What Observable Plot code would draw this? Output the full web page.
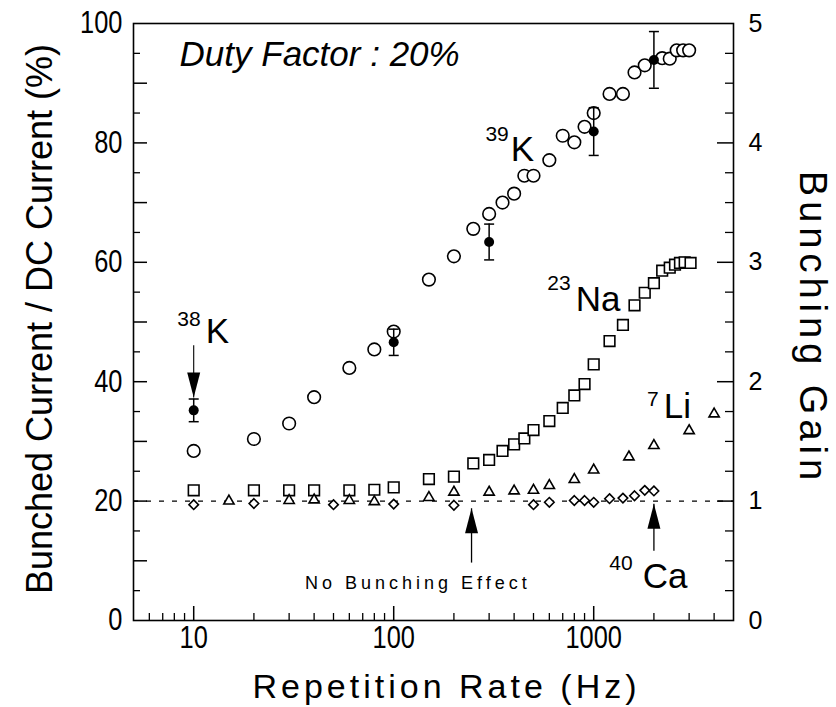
<!DOCTYPE html>
<html><head><meta charset="utf-8">
<script src="https://cdn.jsdelivr.net/npm/d3@7"></script>
<script src="https://cdn.jsdelivr.net/npm/@observablehq/plot@0.6"></script>
<style>body{margin:0;background:#fff}</style>
</head><body><div id="chart"></div>
<script>
// ---- data ----
const kRate = [10,20,30,40,60,80,100,150,200,250,300,350,400,450,500,600,700,800,900,1000,1200,1400,1600,1800,2200,2400,2600,2800,3000];
const kPct  = [28.4,30.4,33.0,37.4,42.3,45.4,48.4,57.1,61.0,65.6,68.1,70.0,71.5,74.5,74.5,77.1,81.2,80.1,82.7,85.0,88.2,88.2,91.8,93.0,94.2,94.1,95.5,95.5,95.5];
const kErrRate = [10,100,300,1000,2000];
const kErrPct  = [35.2,46.6,63.4,81.9,93.9];
const kErrBar  = [1.9,2.2,3.0,4.0,4.75];
const naRate = [10,20,30,40,60,80,100,150,200,250,300,350,400,450,500,600,700,800,900,1000,1200,1400,1600,1800,2000,2200,2400,2550,2700,2850,3050];
const naPct  = [21.8,21.8,21.8,21.8,21.8,21.9,22.3,23.7,24.1,26.3,26.9,28.4,29.5,30.5,31.9,33.4,35.6,37.7,39.6,42.9,46.8,49.5,52.8,54.9,56.5,58.6,59.1,59.6,59.9,60.0,59.9];
const liRate = [15,30,40,60,80,150,200,300,400,500,600,800,1000,1500,2000,3000,4000];
const liPct  = [20.0,20.1,20.2,20.1,19.9,20.6,21.5,21.5,21.7,21.8,22.6,23.6,25.2,27.4,29.3,31.8,34.6];
const caRate = [10,20,50,100,200,500,600,800,900,1000,1200,1400,1600,1800,2000];
const caPct  = [19.4,19.6,19.4,19.5,19.3,19.4,19.8,20.1,20.1,19.8,20.4,20.5,20.9,21.8,21.7];
const baseline = [20];
const xMajorTicks = [10,100,1000];
const xMinorTicks = [6,7,8,9,20,30,40,50,60,70,80,90,200,300,400,500,600,700,800,900,2000,3000,4000];
const yTickLabels = [0,20,40,60,80,100];
const yMajorTicks = [10,20,30,40,50,60,70,80,90];
const yMinorTicks = [5,15,25,35,45,55,65,75,85,95];
const gainTickLabels = [0,1,2,3,4,5];
const gainMajorTicks = [1,2,3,4];
const gainMinorTicks = [0.25,0.5,0.75,1.25,1.5,1.75,2.25,2.5,2.75,3.25,3.5,3.75,4.25,4.5,4.75];
// annotations (data coordinates)
const isoMain = ["K","K","Na","Li","Ca"];
const isoMainRate = [11.5,385,813,2239,1758];
const isoMainPct  = [46.4,77.05,51.9,34.0,5.5];
const isoSup = ["38","39","23","7","40"];
const isoSupRate = [10.83,376,767,2113,1567];
const isoSupPct  = [49.4,80.4,55.3,36.0,8.4];
const arrowUpRate = [245,2000];
const arrowUpTip  = [18.8,19.55];
const arrowUpTail = [9.7,11.7];
const arrowDownRate = [10];
const arrowDownTip  = [37.35];
const arrowDownTail = [46.1];

// ---- tables ----
const zip = (xs, ys) => xs.map((x, i) => ({x, y: ys[i]}));
const k39 = zip(kRate, kPct);
const kErr = kErrRate.map((x, i) => ({x, y: kErrPct[i], e: kErrBar[i]}));
const na = zip(naRate, naPct);
const li = zip(liRate, liPct);
const ca = zip(caRate, caPct);
const mains = isoMain.map((t, i) => ({t, x: isoMainRate[i], y: isoMainPct[i]}));
const sups = isoSup.map((t, i) => ({t, x: isoSupRate[i], y: isoSupPct[i]}));
const upArrows = arrowUpRate.map((x, i) => ({x, tip: arrowUpTip[i], tail: arrowUpTail[i]}));
const downArrows = arrowDownRate.map((x, i) => ({x, tip: arrowDownTip[i], tail: arrowDownTail[i]}));

const head = {draw(ctx) { ctx.moveTo(0, 0); ctx.lineTo(6.5, 25); ctx.lineTo(-6.5, 25); ctx.closePath(); }};
const cap = {draw(ctx) { ctx.moveTo(-5, 0); ctx.lineTo(5, 0); }};
const SANS = "Liberation Sans, Arial, Helvetica, sans-serif";
const FH = 597, FW = 600;

const chart = Plot.plot({
  width: 836, height: 707,
  marginLeft: 133, marginRight: 103, marginTop: 23, marginBottom: 87,
  x: {type: "log", domain: [5, 5000], axis: null},
  y: {domain: [0, 100], axis: null},
  style: {fontFamily: SANS, background: "#fff", color: "#000"},
  marks: [
    Plot.ruleY(baseline, {y: d => d, stroke: "#000", strokeWidth: 1.3, strokeDasharray: "5,8"}),
    // ticks
    Plot.ruleX(xMajorTicks, {x: d => d, insetTop: FH - 14, strokeWidth: 1.5}),
    Plot.ruleX(xMinorTicks, {x: d => d, insetTop: FH - 7, strokeWidth: 1.3}),
    Plot.ruleY(yMajorTicks, {y: d => d, insetRight: FW - 14, strokeWidth: 1.5}),
    Plot.ruleY(yMinorTicks, {y: d => d, insetRight: FW - 7, strokeWidth: 1.3}),
    Plot.ruleY(gainMajorTicks, {y: d => d * 20, insetLeft: FW - 16, strokeWidth: 1.5}),
    Plot.ruleY(gainMinorTicks, {y: d => d * 20, insetLeft: FW - 8, strokeWidth: 1.3}),
    Plot.frame({stroke: "#000", strokeWidth: 1.6}),
    // tick labels (condensed later)
    Plot.text(xMajorTicks, {x: d => d, text: d => String(d), frameAnchor: "bottom", dy: 27, fontSize: 31}),
    Plot.text(yTickLabels, {y: d => d, text: d => String(d), frameAnchor: "left", dx: -11, textAnchor: "end", fontSize: 31}),
    Plot.text(gainTickLabels, {y: d => d * 20, text: d => String(d), frameAnchor: "right", dx: 15, textAnchor: "start", fontSize: 25}),
    // axis titles
    Plot.text(["Bunched Current / DC Current (%)"], {frameAnchor: "left", dx: -93, dy: -3, rotate: -90, textAnchor: "middle", fontSize: 36}),
    Plot.text(["Bunching Gain"], {frameAnchor: "right", dx: 79, dy: 6, rotate: 90, textAnchor: "middle", fontSize: 38}),
    Plot.text(["Repetition Rate (Hz)"], {frameAnchor: "bottom", dx: 13, dy: 77, textAnchor: "middle", lineAnchor: "bottom", fontSize: 34}),
    // data
    Plot.dot(na, {x: "x", y: "y", symbol: "square", r: 6, stroke: "#000", strokeWidth: 1.6, fill: "#fff"}),
    Plot.dot(li, {x: "x", y: "y", symbol: "triangle", r: 3.8, stroke: "#000", strokeWidth: 1.6, fill: "#fff"}),
    Plot.dot(ca, {x: "x", y: "y", symbol: "diamond2", r: 4.3, stroke: "#000", strokeWidth: 1.6, fill: "#fff"}),
    Plot.dot(k39, {x: "x", y: "y", symbol: "circle", r: 6.3, stroke: "#000", strokeWidth: 1.6, fill: "#fff"}),
    Plot.ruleX(kErr, {x: "x", y1: d => d.y - d.e, y2: d => d.y + d.e, strokeWidth: 1.5}),
    Plot.dot(kErr, {x: "x", y: d => d.y - d.e, symbol: cap, stroke: "#000", strokeWidth: 1.5}),
    Plot.dot(kErr, {x: "x", y: d => d.y + d.e, symbol: cap, stroke: "#000", strokeWidth: 1.5}),
    Plot.dot(kErr, {x: "x", y: "y", r: 5, fill: "#000"}),
    // arrows
    Plot.link(upArrows, {x1: "x", x2: "x", y1: "tail", y2: "tip", strokeWidth: 1.3}),
    Plot.dot(upArrows, {x: "x", y: "tip", symbol: head, fill: "#000"}),
    Plot.link(downArrows, {x1: "x", x2: "x", y1: "tail", y2: "tip", strokeWidth: 1.1}),
    Plot.dot(downArrows, {x: "x", y: "tip", symbol: head, fill: "#000", rotate: 180}),
    // labels
    Plot.text(mains, {x: "x", y: "y", text: "t", textAnchor: "start", lineAnchor: "bottom", fontSize: 35}),
    Plot.text(sups, {x: "x", y: "y", text: "t", textAnchor: "end", lineAnchor: "bottom", fontSize: 21}),
    Plot.text(["Duty Factor : 20%"], {x: () => 8.5, y: () => 92.96, textAnchor: "start", lineAnchor: "bottom", fontStyle: "italic", fontSize: 35}),
    Plot.text(["No Bunching Effect"], {x: () => 132, y: () => 5.3, textAnchor: "middle", lineAnchor: "bottom", fontSize: 18})
  ]
});
document.getElementById("chart").appendChild(chart);
const spacing = {"No Bunching Effect": "4px", "Repetition Rate (Hz)": "4px", "Bunching Gain": "5px"};
d3.select(chart).selectAll("text").each(function() {
  const s = spacing[this.textContent];
  if (s) this.style.letterSpacing = s;
});
// condensed look of the left and bottom tick numbers
d3.select(chart).selectAll("text").each(function() {
  if (getComputedStyle(this).fontSize !== "31px") return;
  const t = this.getAttribute("transform");
  if (t && t.includes("translate")) {
    this.setAttribute("transform", t + " scale(0.82,1)");
  } else {
    const x = +(this.getAttribute("x") || 0), y = +(this.getAttribute("y") || 0);
    this.setAttribute("transform", `translate(${x},${y}) scale(0.82,1) translate(${-x},${-y})`);
  }
});
</script>
</body></html>
